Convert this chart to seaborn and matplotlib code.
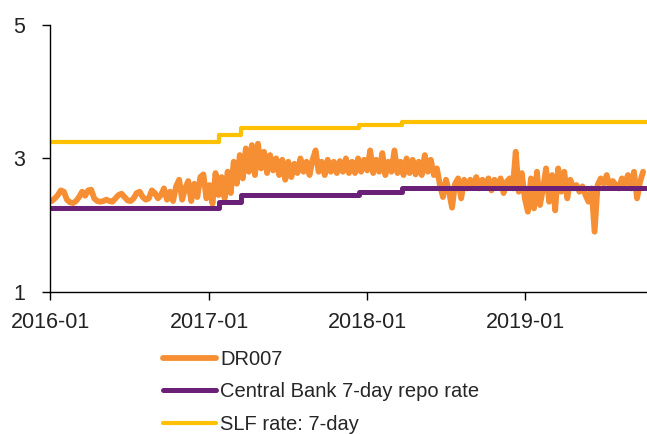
import pandas as pd
import matplotlib
matplotlib.use("Agg")
import matplotlib.pyplot as plt
import matplotlib.dates as mdates
import seaborn as sns

# DR007, weekly readings (Mondays from 2016-01-04)
dr007_2016 = [2.36, 2.40, 2.45, 2.52, 2.50, 2.38, 2.34, 2.33, 2.36, 2.42, 2.50, 2.44,
              2.52, 2.53, 2.40, 2.36, 2.35, 2.36, 2.38, 2.36, 2.35, 2.40, 2.45, 2.47,
              2.42, 2.37, 2.36, 2.40, 2.48, 2.50, 2.42, 2.38, 2.40, 2.52, 2.48, 2.40,
              2.45, 2.55, 2.38, 2.50, 2.36, 2.58, 2.68, 2.38, 2.55, 2.66, 2.36, 2.62,
              2.42, 2.72, 2.76, 2.40]
dr007_2017 = [2.60, 2.32, 2.78, 2.45, 2.72, 2.40, 2.80, 2.48, 2.95, 2.62, 3.05, 2.70,
              3.15, 2.80, 3.20, 2.75, 3.22, 2.85, 3.10, 2.78, 3.05, 2.82, 3.00, 2.75,
              2.98, 2.68, 2.95, 2.72, 2.92, 2.78, 3.00, 2.80, 2.95, 2.75, 2.98, 3.12,
              2.80, 2.95, 2.75, 2.98, 2.80, 2.95, 2.78, 2.96, 2.80, 3.00, 2.78, 2.95,
              2.78, 3.00, 2.80, 2.98]
dr007_2018 = [2.82, 3.12, 2.78, 2.98, 2.80, 3.08, 2.75, 2.95, 2.80, 3.12, 2.78, 2.95,
              2.75, 3.00, 2.78, 2.98, 2.76, 2.95, 2.75, 3.05, 2.80, 2.98, 2.75, 2.85,
              2.60, 2.42, 2.68, 2.50, 2.26, 2.62, 2.70, 2.40, 2.68, 2.55, 2.68, 2.58,
              2.72, 2.55, 2.68, 2.58, 2.70, 2.52, 2.68, 2.56, 2.70, 2.48, 2.65, 2.70,
              2.55, 3.10, 2.50, 2.78]
dr007_2019 = [2.40, 2.20, 2.70, 2.25, 2.80, 2.30, 2.55, 2.85, 2.35, 2.75, 2.22, 2.85,
              2.50, 2.80, 2.40, 2.68, 2.55, 2.60, 2.50, 2.58, 2.45, 2.35, 2.55, 1.90,
              2.60, 2.70, 2.62, 2.75, 2.58, 2.66, 2.60, 2.55, 2.70, 2.62, 2.75, 2.55,
              2.80, 2.40, 2.65, 2.80]
dr007 = dr007_2016 + dr007_2017 + dr007_2018 + dr007_2019
dr007_dates = pd.date_range("2016-01-04", periods=len(dr007), freq="W-MON")

# policy rate change dates and levels
policy_dates = pd.to_datetime(["2016-01-01", "2017-01-24", "2017-03-16",
                               "2017-12-14", "2018-03-22", "2019-10-10"])
repo_rate = [2.25, 2.35, 2.45, 2.50, 2.55, 2.55]
slf_rate = [3.25, 3.35, 3.45, 3.50, 3.55, 3.55]

labels = ["DR007", "Central Bank 7-day repo rate", "SLF rate: 7-day"]
colors = ["#F68E33", "#6B2078", "#FFC000"]

sns.set_style("ticks")
plt.rcParams["font.family"] = ["Liberation Sans", "DejaVu Sans"]

fig = plt.figure(figsize=(6.47, 4.34), dpi=100)
ax = fig.add_axes([0.078, 0.328, 0.922, 0.614])

sns.lineplot(x=dr007_dates, y=dr007, ax=ax, color=colors[0], linewidth=4.2,
             label=labels[0])
sns.lineplot(x=policy_dates, y=repo_rate, ax=ax, color=colors[1], linewidth=3.6,
             drawstyle="steps-post", label=labels[1])
sns.lineplot(x=policy_dates, y=slf_rate, ax=ax, color=colors[2], linewidth=3.0,
             drawstyle="steps-post", label=labels[2])

ax.set_xlim(pd.Timestamp("2016-01-01"), pd.Timestamp("2019-10-09"))
ax.set_ylim(1, 5)
ax.set_yticks([1, 3, 5])
ax.set_xticks(pd.to_datetime(["2016-01-01", "2017-01-01", "2018-01-01", "2019-01-01"]))
ax.xaxis.set_major_formatter(mdates.DateFormatter("%Y-%m"))
ax.set_xlabel("")
ax.set_ylabel("")
sns.despine(ax=ax)
for s in ["left", "bottom"]:
    ax.spines[s].set_linewidth(1.0)
    ax.spines[s].set_color("black")
ax.tick_params(axis="both", labelsize=15.5, color="black", width=1.0, length=6,
               labelcolor="#222222")
ax.tick_params(axis="y", pad=12)
ax.tick_params(axis="x", pad=9)

ax.get_legend().remove()
handles, lbls = ax.get_legend_handles_labels()
fig.legend(handles, lbls, loc="upper left", bbox_to_anchor=(0.239, 0.213),
           frameon=False, fontsize=14.5, handlelength=2.64, handletextpad=0.2,
           labelspacing=0.68, borderaxespad=0)

fig.savefig("out.png", dpi=100)
